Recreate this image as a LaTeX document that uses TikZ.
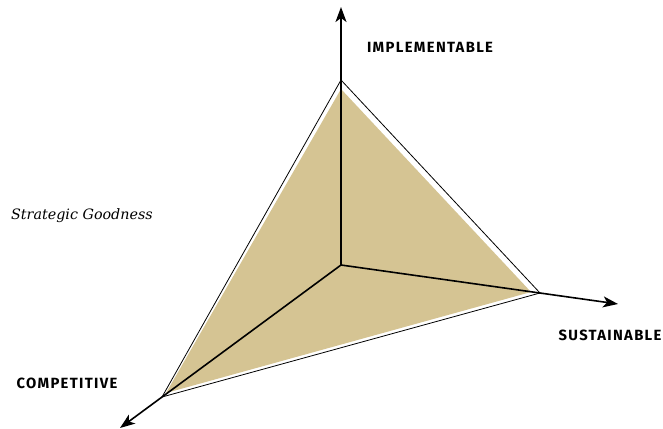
\documentclass[tikz,border=0pt]{standalone}
\usepackage{fontspec}
\setmainfont{DejaVu Serif}
\newfontfamily\axisfont[LetterSpace=9]{Fira Sans}
\usetikzlibrary{arrows.meta,positioning}
\definecolor{GoodnessTan}{RGB}{213,196,147}

\begin{document}
\begin{tikzpicture}[x=1pt,y=-1pt,
    axis/.style={line width=1.6pt, -{Stealth[length=15pt,width=11pt,inset=4pt]}},
    axislabel/.style={font=\axisfont\fontsize{14.8}{16}\selectfont\bfseries, inner sep=0pt}]
    \useasboundingbox (0,0) rectangle (663,428);

    \coordinate (o) at (341,265);
    \coordinate (impl) at (341,80);
    \coordinate (sust) at (540,293);
    \coordinate (comp) at (162,397);
    \coordinate (implTip) at (341,7);
    \coordinate (sustTip) at (618,304);
    \coordinate (compTip) at (120,428);

    % scored area
    \fill[GoodnessTan] (341,89) -- (531,292) -- (166,393) -- cycle;
    \draw[line width=0.8pt] (impl) -- (sust) -- (comp) -- cycle;

    \draw[axis] (o) -- (implTip);
    \draw[axis] (o) -- (sustTip);
    \draw[axis] (o) -- (compTip);

    \node[axislabel] (implLabel) at (430,47) {IMPLEMENTABLE};
    \node[axislabel] (sustLabel) at (610,335) {SUSTAINABLE};
    \node[axislabel] (compLabel) at (67,383) {COMPETITIVE};
    \node[font=\itshape\fontsize{14.3}{16}\selectfont, anchor=west, inner sep=0pt] (title) at (11,216) {Strategic Goodness};
\end{tikzpicture}
\end{document}
